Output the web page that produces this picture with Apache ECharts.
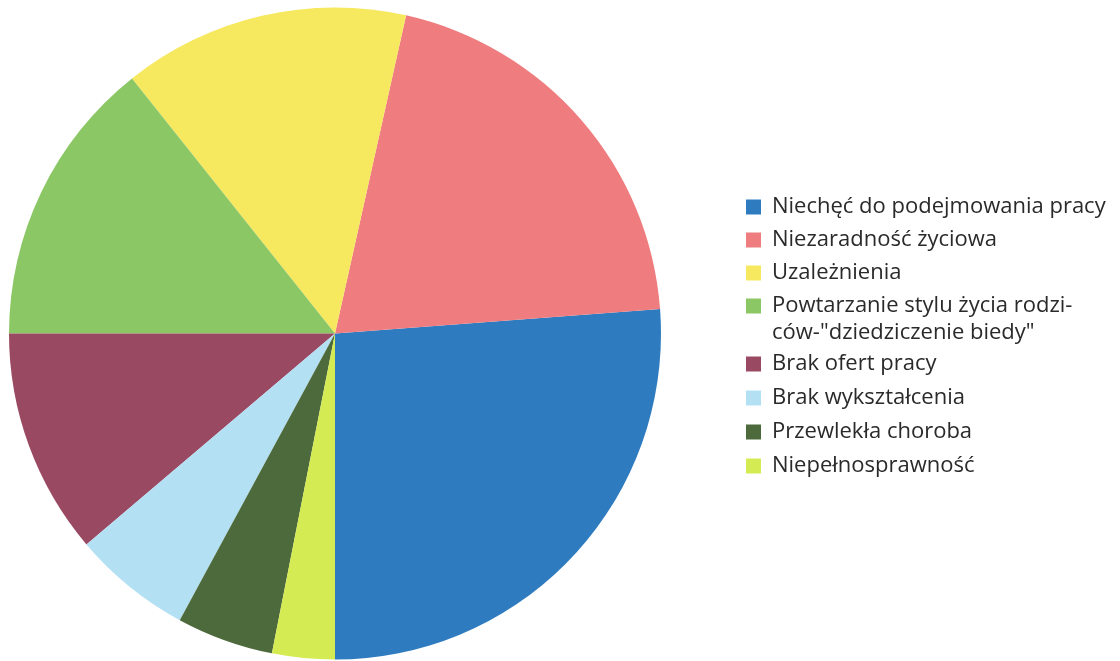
<!DOCTYPE html>
<html>
<head>
<meta charset="utf-8">
<script src="https://cdn.jsdelivr.net/npm/echarts@6/dist/echarts.min.js"></script>
<style>
html,body{margin:0;padding:0;background:#ffffff;}
#chart{width:1120px;height:661px;}
</style>
</head>
<body>
<div id="chart"></div>
<script>
const categories = [
  'Niechęć do podejmowania pracy',
  'Niezaradność życiowa',
  'Uzależnienia',
  'Powtarzanie stylu życia rodzi-\ncÓw',
  'Brak ofert pracy',
  'Brak wykształcenia',
  'Przewlekła choroba',
  'Niepełnosprawność'
];
categories[3] = 'Powtarzanie stylu życia rodzi-ców-"dziedziczenie biedy"';
const legendLine1 = 'Powtarzanie stylu życia rodzi-';
const legendLine2 = 'ców-"dziedziczenie biedy"';
const values = [26.2, 20.3, 14.2, 14.3, 11.2, 5.9, 4.8, 3.1];
const colors = ['#2f7bc0', '#ef7c7e', '#f6e85f', '#8cc766', '#9a4963', '#b4e0f4', '#4d6a3c', '#d4eb53'];

const chart = echarts.init(document.getElementById('chart'), null, {renderer: 'canvas'});
const textStyle = {
  fontFamily: 'Open Sans',
  fontSize: 22,
  lineHeight: 22,
  color: '#2a2a2a',
  padding: [0, 0, 0, 6]
};
const legendCommon = {
  orient: 'vertical',
  left: 746,
  padding: 0,
  icon: 'rect',
  itemWidth: 15,
  itemHeight: 15,
  selectedMode: false,
  textStyle: textStyle,
  formatter: function (name) {
    return name === categories[3] ? legendLine1 : name;
  }
};
chart.setOption({
  backgroundColor: '#ffffff',
  animation: false,
  color: colors,
  legend: [
    Object.assign({}, legendCommon, {top: 196, itemGap: 11, data: categories.slice(0, 4)}),
    Object.assign({}, legendCommon, {top: 353, itemGap: 12, data: categories.slice(4)})
  ],
  graphic: [{
    type: 'text',
    left: 772,
    top: 322,
    style: {
      text: legendLine2,
      fontFamily: 'Open Sans',
      fontSize: 22,
      fill: '#2a2a2a'
    }
  }],
  series: [{
    type: 'pie',
    center: [335, 333.5],
    radius: 326,
    startAngle: 270,
    clockwise: false,
    label: {show: false},
    labelLine: {show: false},
    emphasis: {disabled: true},
    itemStyle: {borderWidth: 0},
    data: categories.map((n, i) => ({name: n, value: values[i]}))
  }]
});
</script>
</body>
</html>
